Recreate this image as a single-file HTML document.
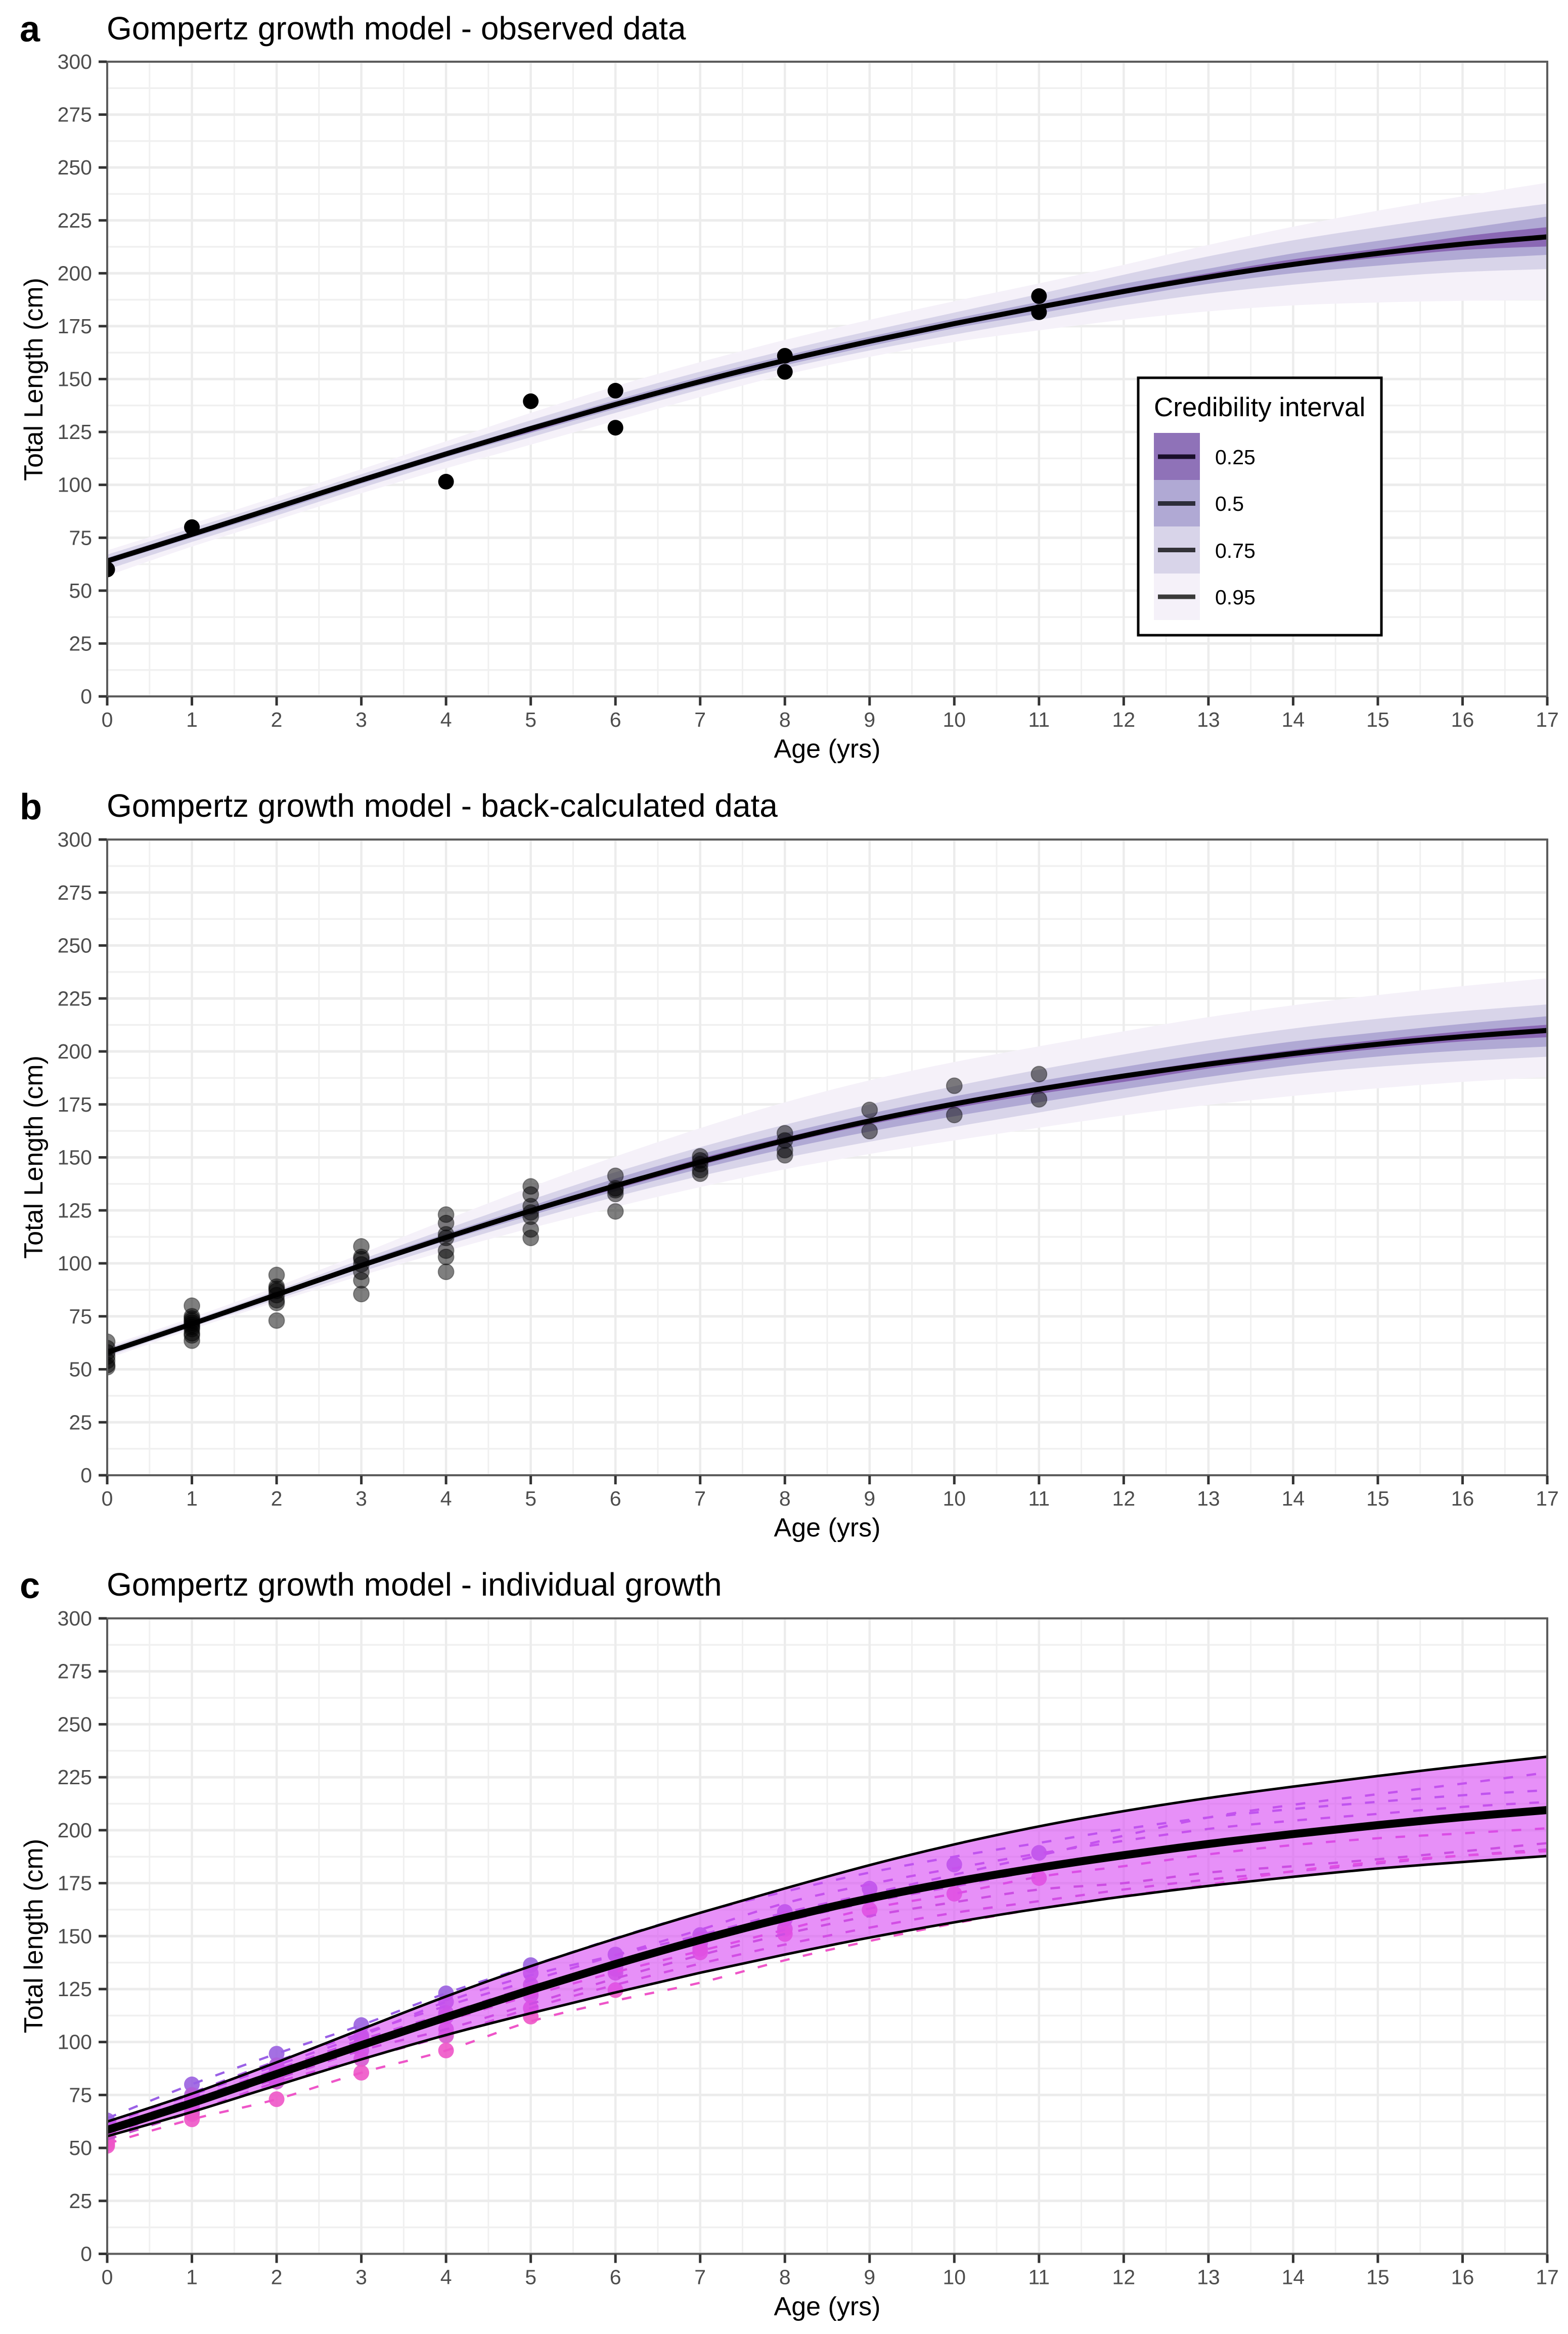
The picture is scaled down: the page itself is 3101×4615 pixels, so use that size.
<!DOCTYPE html>
<html lang="en">
<head>
<meta charset="utf-8">
<title>Gompertz growth model</title>
<style>
html,body{margin:0;padding:0;background:#fff}
svg{display:block}
text{font-family:"Liberation Sans",sans-serif}
</style>
</head>
<body>
<svg id="figure" xmlns="http://www.w3.org/2000/svg" width="3101" height="4615" viewBox="0 0 3101 4615">
  <rect x="0" y="0" width="3101" height="4615" fill="#fff"/>
  <defs>
    <clipPath id="clip-a"><rect x="212" y="122" width="2848" height="1255"/></clipPath>
    <clipPath id="clip-b"><rect x="212" y="1660" width="2848" height="1257"/></clipPath>
    <clipPath id="clip-c"><rect x="212" y="3200" width="2848" height="1256.5"/></clipPath>
  </defs>
  <g id="panel-a"></g>
  <g id="panel-b"></g>
  <g id="panel-c"></g>

  <text x="39" y="82" font-size="72" font-weight="700" fill="#000">a</text>
  <text x="211" y="78" font-size="64" fill="#000">Gompertz growth model - observed data</text>
  <text x="1636" y="1498" font-size="52" text-anchor="middle" fill="#000">Age (yrs)</text>
  <text x="84" y="750" font-size="52" text-anchor="middle" fill="#000" transform="rotate(-90 84 750)">Total Length (cm)</text>

  <text x="39" y="1620" font-size="72" font-weight="700" fill="#000">b</text>
  <text x="211" y="1615" font-size="64" fill="#000">Gompertz growth model - back-calculated data</text>
  <text x="1636" y="3038" font-size="52" text-anchor="middle" fill="#000">Age (yrs)</text>
  <text x="84" y="2288" font-size="52" text-anchor="middle" fill="#000" transform="rotate(-90 84 2288)">Total Length (cm)</text>

  <text x="39" y="3160" font-size="72" font-weight="700" fill="#000">c</text>
  <text x="211" y="3155" font-size="64" fill="#000">Gompertz growth model - individual growth</text>
  <text x="1636" y="4578" font-size="52" text-anchor="middle" fill="#000">Age (yrs)</text>
  <text x="84" y="3828" font-size="52" text-anchor="middle" fill="#000" transform="rotate(-90 84 3828)">Total length (cm)</text>

  <g id="legend">
    <rect x="2251" y="747" width="481" height="509" fill="#fff" stroke="#000" stroke-width="5"/>
    <text x="2282" y="823" font-size="53" fill="#000">Credibility interval</text>
    <rect x="2282" y="856" width="91" height="93" fill="#8f72b8"/>
    <rect x="2282" y="949" width="91" height="92" fill="#b0a9d4"/>
    <rect x="2282" y="1041" width="91" height="93" fill="#d8d4e9"/>
    <rect x="2282" y="1134" width="91" height="92" fill="#f5f1f9"/>
    <line x1="2290" x2="2364" y1="903" y2="903" stroke="#1a0f2a" stroke-width="9"/>
    <line x1="2290" x2="2364" y1="995.5" y2="995.5" stroke="#2d2d3a" stroke-width="9"/>
    <line x1="2290" x2="2364" y1="1087.5" y2="1087.5" stroke="#333338" stroke-width="9"/>
    <line x1="2290" x2="2364" y1="1180" y2="1180" stroke="#3a3a3a" stroke-width="9"/>
    <text x="2403" y="918" font-size="41" fill="#000">0.25</text>
    <text x="2403" y="1010" font-size="41" fill="#000">0.5</text>
    <text x="2403" y="1103" font-size="41" fill="#000">0.75</text>
    <text x="2403" y="1195" font-size="41" fill="#000">0.95</text>
  </g>
</svg>

<script>
// ---- shared axis data ----
const ages = [0,1,2,3,4,5,6,7,8,9,10,11,12,13,14,15,16,17];
const xTickLabels = ['0','1','2','3','4','5','6','7','8','9','10','11','12','13','14','15','16','17'];
const yTickLabels = ['0','25','50','75','100','125','150','175','200','225','250','275','300'];

// ---- panel a: observed ----
const medianA = [64,76.6,89.4,102.2,114.6,126.6,138,148.8,158.8,167.8,176.2,184,191.4,198.2,204.2,209.4,213.8,217.2];
const upper95A = [69,81.6,94.4,107.4,120.6,134,146.6,158,168.5,178,186.8,195.2,204,213.4,222,229.6,236.4,242.8];
const lower95A = [57,70.8,83.4,96,107.8,119,130.3,141.5,152,160.5,167.5,173,178,182,184.8,186.2,187,187.4];
const upper75A = [67,79.5,92,105,118,130.5,142.5,153.5,163.5,172.7,181.4,190.2,199.3,208,215.6,221.8,227.6,232.9];
const lower75A = [60,73,85.5,98.5,111,122.5,134,145,155,163.5,171,178,184.8,190.4,194.6,198,200.6,202];
const upper50A = [65.5,78,90.5,103.5,116,128,140,151,161,170,178.5,186.5,195,202.2,209.4,215.3,221,226.8];
const lower50A = [62.5,75,87.5,100.5,113,124.5,136,147,156.5,165.5,174,181,188.4,195,200,203.6,206.6,208.7];
const upper25A = [64.7,77.2,89.7,102.7,115.2,127,139,150,160,169,177.2,185.2,192.8,200,206.6,211.6,217.4,221.8];
const lower25A = [63.3,75.8,88.3,101.3,113.8,125,137,148,157.8,166.7,175,183,190.6,197.1,203,207.3,211,212.7];
const pointAgesA = [0,1,4,5,6,6,8,8,11,11];
const pointLengthsA = [60,80,101.5,139.5,144.5,127,161,153.4,189.2,181.6];

// ---- panel b: back-calculated ----
const medianB = [58,71.4,85.2,99,112.2,124.8,136.6,147.8,158,167.2,175.2,182.2,188.4,194,199,203.4,207,209.9];
const upper95B = [61,74.4,89,104.6,120.6,136,150.4,163.8,176,186.4,195,202.4,209.5,216.2,221.8,226.6,230.8,234.5];
const lower95B = [55,68.8,81.8,94.2,105.8,116.6,126.6,136,144.4,151.6,158,164,169.8,174.8,179,182.6,185.6,188];
const upper75B = [60,73.2,87.2,101.8,116.2,130,143,154.8,165.4,175,183.6,191.4,198.6,205.2,210.8,215.4,219,222.2];
const lower75B = [56,69.8,83,96,108.6,120.4,131.4,141.2,149.8,157.4,164.4,171.2,178,184.2,189.2,192.8,195.4,197.5];
const upper50B = [59,72.5,86,100.5,114,127,140,151.5,161.4,170.6,178.8,186,192.7,199.1,204.7,209,213,216.6];
const lower50B = [57,70.5,84,97.8,110.6,122.6,134,144.6,154,162.2,169.4,176,182.2,188,193.4,197.6,200.4,202.3];
const upper25B = [58.5,72,85.5,99.8,113,125.5,137.5,149.5,159.5,168.5,176.5,183.5,189.6,195.5,200.7,205.5,209.5,212.6];
const lower25B = [57.5,71,84.7,98.2,111.5,123.7,135,146.2,156.5,165.5,173.2,180,185.6,191.9,197,201.2,204.7,206.7];
const pointAgesB = [0,0,0,0,0,0,0,
  1,1,1,1,1,1,1,1,1,1,1,
  2,2,2,2,2,2,2,2,
  3,3,3,3,3,3,3,
  4,4,4,4,4,4,4,
  5,5,5,5,5,5,5,
  6,6,6,6,6,
  7,7,7,7,7,
  8,8,8,8,
  9,9,10,10,11,11];
const pointLengthsB = [63,60,58,56,54,52,51,
  80,75,74,73,72,71,70,69,67,66,63.5,
  94.5,89,88,87,85,82.6,81.3,73,
  108,103,102,99.5,96,92,85.5,
  123,119,113.7,112,106,103,96,
  136.3,132.5,127,124,122,116,112,
  141.3,135.4,134.5,132.7,124.5,
  150.5,148.6,146.8,144,142.3,
  161.4,158,153.4,151,
  172.4,162.4,183.8,170,189.3,177.4];

// ---- panel c: individual growth ----
const medianC = [58.5,71.2,84.9,98.5,111.7,124.6,136.8,148.2,158.6,167.8,175.6,182.3,188.2,193.5,198.2,202.4,206.2,209.5];
const upperC = [62.4,75.6,90.4,106,121.5,135.8,148.8,161,172.5,183.5,193.3,201.8,209,215.2,220.6,225.6,230.3,234.7];
const lowerC = [55.5,67,79.5,91.8,103.3,113.6,123.4,132.7,141.3,149.3,156.5,163,168.7,173.7,178,181.9,185,187.8];
const individual1 = [64,80,94.5,108,123,136,149,161,171,180,187.5,194,200.5,206,210,213.4,216.5,218.9];
const individual2 = [62,75,89,103,119,131.5,141,150.5,161,170,179,188,197.4,206,212,217,222,227.2];
const individual3 = [61,76,91,104,117,129,141,153,165.5,174.5,182,189,195,200.6,204.5,207.7,211,213.3];
const individual4 = [60,73,87,101,113.5,126,136,147,157,166,173.5,181,187,193,198,203,206.5,209];
const individual5 = [58,72,85,98,110,122,133,143,153,163,170,178,183,188.6,193,196.2,198.5,200.9];
const individual6 = [56,70,82.6,96,106,118,130,141,151,159.5,166,172,175,180,183,186.3,190,193.9];
const individual7 = [54,67,81,92,103,116,127,137,146,154,161,166.5,172,176.7,180.5,184.3,188,190.9];
const individual8 = [52,63.5,73,85.5,96,109.7,119.5,128,138.6,147.7,156,163,169,174.3,180.7,185,188,190.1];

// ---- axis functions ----
const XL = 212, XR = 3060;
function xScale(age){ return XL + age * (XR - XL) / 17; }
function yScaleFor(top, bottom){ return function(v){ return bottom - v * (bottom - top) / 300; }; }

const NS = 'http://www.w3.org/2000/svg';
function make(parent, tag, attrs){
  const el = document.createElementNS(NS, tag);
  for (const k in attrs) el.setAttribute(k, attrs[k]);
  parent.appendChild(el);
  return el;
}
function curveSegs(pts){
  let d = '';
  for (let i = 0; i < pts.length - 1; i++){
    const p0 = pts[Math.max(i-1,0)], p1 = pts[i], p2 = pts[i+1], p3 = pts[Math.min(i+2,pts.length-1)];
    const c1x = p1[0] + (p2[0]-p0[0])/6, c1y = p1[1] + (p2[1]-p0[1])/6;
    const c2x = p2[0] - (p3[0]-p1[0])/6, c2y = p2[1] - (p3[1]-p1[1])/6;
    d += 'C' + c1x.toFixed(1) + ' ' + c1y.toFixed(1) + ' ' + c2x.toFixed(1) + ' ' + c2y.toFixed(1) + ' ' + p2[0].toFixed(1) + ' ' + p2[1].toFixed(1);
  }
  return d;
}
function curvePoints(values, y){ return values.map(function(v,i){ return [xScale(ages[i]), y(v)]; }); }
function linePath(values, y){
  const pts = curvePoints(values, y);
  return 'M' + pts[0][0].toFixed(1) + ' ' + pts[0][1].toFixed(1) + curveSegs(pts);
}
function bandPath(upper, lower, y){
  const up = curvePoints(upper, y), low = curvePoints(lower, y).reverse();
  return 'M' + up[0][0].toFixed(1) + ' ' + up[0][1].toFixed(1) + curveSegs(up) +
         'L' + low[0][0].toFixed(1) + ' ' + low[0][1].toFixed(1) + curveSegs(low) + 'Z';
}
function mixColor(t){
  const a = [154,96,224], b = [238,85,200];
  return 'rgb(' + a.map(function(c,i){ return Math.round(c + (b[i]-c)*t); }).join(',') + ')';
}

function drawFrame(group, top, bottom, y){
  const grid = make(group, 'g', {});
  
  
  for (let a = 0.5; a < 17; a += 1){
    const g = make(grid, 'line', {x1:xScale(a), x2:xScale(a), y1:top, y2:bottom, stroke:'#f0f0f0', 'stroke-width':3});
    
    
  }
  yTickLabels.forEach(function(label, i){
    if (i === yTickLabels.length - 1) return;
    const v = Number(label) + 12.5;
    const g = make(grid, 'line', {x1:XL, x2:XR, y1:y(v), y2:y(v), stroke:'#f0f0f0', 'stroke-width':3.5});
    
    
  });
  xTickLabels.forEach(function(label){
    const x = xScale(Number(label));
    const g = make(grid, 'line', {x1:x, x2:x, y1:top, y2:bottom, stroke:'#ececec', 'stroke-width':4.5});
    
    
  });
  yTickLabels.forEach(function(label){
    const yy = y(Number(label));
    const g = make(grid, 'line', {x1:XL, x2:XR, y1:yy, y2:yy, stroke:'#ececec', 'stroke-width':5});
    
    
  });
}
function drawAxes(group, top, bottom, y){
  const border = make(group, 'rect', {x:XL, y:top, width:XR-XL, height:bottom-top, fill:'none', stroke:'#5c5c5c', 'stroke-width':4});
  
  
  yTickLabels.forEach(function(label){
    const yy = y(Number(label));
    const tick = make(group, 'line', {x1:195, x2:211, y1:yy, y2:yy, stroke:'#333', 'stroke-width':5});
    
    
    const t = make(group, 'text', {x:182, y:yy+14, 'font-size':41, 'text-anchor':'end', fill:'#4d4d4d'});
    
    
    t.textContent = label;
  });
  xTickLabels.forEach(function(label){
    const x = xScale(Number(label));
    const tick = make(group, 'line', {x1:x, x2:x, y1:bottom+1, y2:bottom+18, stroke:'#333', 'stroke-width':5});
    
    
    const t = make(group, 'text', {x:x, y:bottom+60, 'font-size':41, 'text-anchor':'middle', fill:'#4d4d4d'});
    
    
    t.textContent = label;
  });
}

function drawRibbonPanel(id, top, bottom, bands, median, pointAges, pointValues, dotStyle){
  const group = document.getElementById(id);
  const y = yScaleFor(top, bottom);
  drawFrame(group, top, bottom, y);
  const plot = make(group, 'g', {'clip-path':'url(#clip-' + id.slice(-1) + ')'});
  
  
  bands.forEach(function(b){
    const band = make(plot, 'path', {d:bandPath(b.upper, b.lower, y), fill:b.fill, stroke:'none'});
    
    
  });
  const line = make(plot, 'path', {d:linePath(median, y), fill:'none', stroke:'#000', 'stroke-width':10});
  
  
  pointAges.forEach(function(age, i){
    const dot = make(plot, 'circle', Object.assign({cx:xScale(age), cy:y(pointValues[i]), r:15.5}, dotStyle));
    
    
  });
  drawAxes(group, top, bottom, y);
}

drawRibbonPanel('panel-a', 122, 1377, [
  {level:'95', upper:upper95A, lower:lower95A, fill:'#f5f1f9'},
  {level:'75', upper:upper75A, lower:lower75A, fill:'#d8d4e9'},
  {level:'50', upper:upper50A, lower:lower50A, fill:'#b0a9d4'},
  {level:'25', upper:upper25A, lower:lower25A, fill:'#8a68b4'}
], medianA, pointAgesA, pointLengthsA, {fill:'#000'});

drawRibbonPanel('panel-b', 1660, 2917, [
  {level:'95', upper:upper95B, lower:lower95B, fill:'#f5f1f9'},
  {level:'75', upper:upper75B, lower:lower75B, fill:'#d8d4e9'},
  {level:'50', upper:upper50B, lower:lower50B, fill:'#b0a9d4'},
  {level:'25', upper:upper25B, lower:lower25B, fill:'#8a68b4'}
], medianB, pointAgesB, pointLengthsB, {fill:'#000', 'fill-opacity':0.5, stroke:'#000', 'stroke-opacity':0.35, 'stroke-width':2});

// panel c
(function(){
  const top = 3200, bottom = 4456.5;
  const group = document.getElementById('panel-c');
  const y = yScaleFor(top, bottom);
  drawFrame(group, top, bottom, y);
  const plot = make(group, 'g', {'clip-path':'url(#clip-c)'});
  
  
  pointAgesB.forEach(function(age, i){
    const sameAge = pointLengthsB.filter(function(v, j){ return pointAgesB[j] === age; });
    const hi = Math.max.apply(null, sameAge), lo = Math.min.apply(null, sameAge);
    const t = (hi - pointLengthsB[i]) / (hi - lo);
    const dot = make(plot, 'circle', {cx:xScale(age), cy:y(pointLengthsB[i]), r:15.5, fill:mixColor(t), 'fill-opacity':0.9});
    
    
  });
  const individuals = [individual1, individual2, individual3, individual4, individual5, individual6, individual7, individual8];
  const dashColors = ['#9a60e6','#a25ce4','#a85ae2','#b455dc','#e050d0','#b850c8','#c850cc','#ee55c8'];
  individuals.forEach(function(series, i){
    const dash = make(plot, 'path', {d:linePath(series, y), fill:'none', stroke:dashColors[i], 'stroke-width':4.5, 'stroke-dasharray':'19 27'});
    
    
  });
  const band = make(plot, 'path', {d:bandPath(upperC, lowerC, y), fill:'#d84cf4', 'fill-opacity':0.62, stroke:'none'});
  
  
  const up = make(plot, 'path', {d:linePath(upperC, y), fill:'none', stroke:'#000', 'stroke-width':5});
  
  
  const low = make(plot, 'path', {d:linePath(lowerC, y), fill:'none', stroke:'#000', 'stroke-width':5});
  
  
  const med = make(plot, 'path', {d:linePath(medianC, y), fill:'none', stroke:'#000', 'stroke-width':16});
  
  
  drawAxes(group, top, bottom, y);
})();
</script>
</body>
</html>
